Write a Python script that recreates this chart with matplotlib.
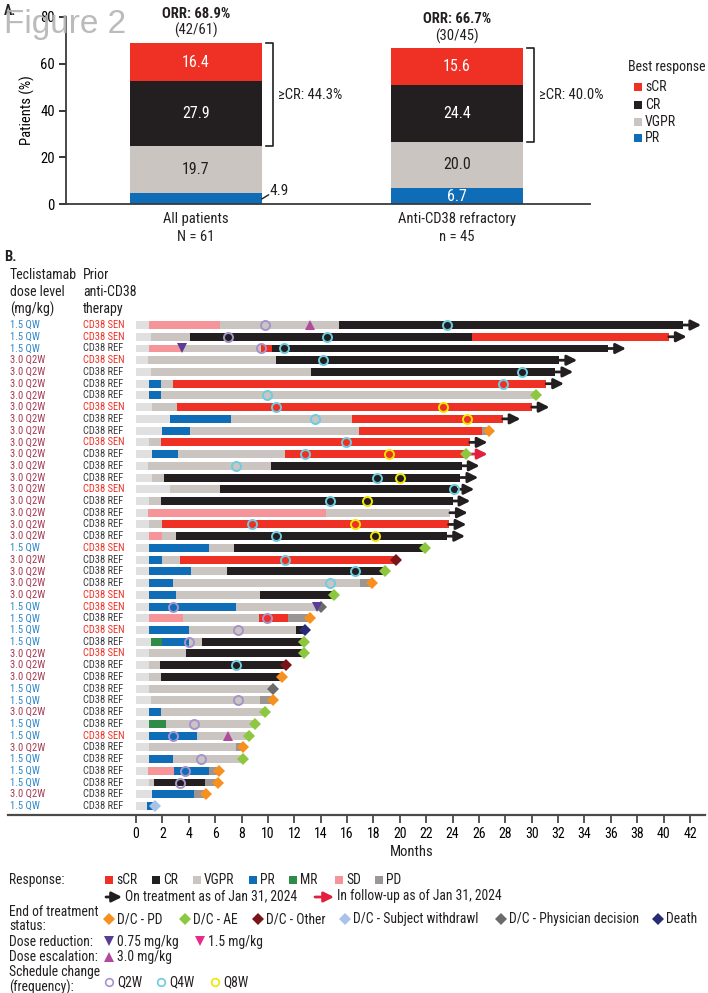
import matplotlib

matplotlib.use("Agg")

import matplotlib.pyplot as plt
from matplotlib import font_manager

_names = {f.name for f in font_manager.fontManager.ttflist}
_narrow = ["Liberation Sans Narrow", "Arial Narrow", "Roboto Condensed",
           "Archivo Narrow", "PT Sans Narrow", "Fira Sans Condensed"]
NARROW = next((n for n in _narrow if n in _names), "Liberation Sans")
plt.rcParams["font.family"] = [NARROW, "DejaVu Sans"]
plt.rcParams["text.color"] = "#231f20"

# ---- panel A: best response (%) ----
groups = ["All patients\nN = 61", "Anti-CD38 refractory\nn = 45"]
pr_pct = [4.9, 6.7]
vgpr_pct = [19.7, 20.0]
cr_pct = [27.9, 24.4]
scr_pct = [16.4, 15.6]
orr_pct = [68.9, 66.7]
orr_n = ["42/61", "30/45"]
gecr_pct = [44.3, 40.0]

# ---- panel B: swimmer plot, one entry per patient (top to bottom) ----
dose_level = [
    "1.5 QW", "1.5 QW", "1.5 QW", "3.0 Q2W", "3.0 Q2W", "3.0 Q2W", "3.0 Q2W",
    "3.0 Q2W", "3.0 Q2W", "3.0 Q2W", "3.0 Q2W", "3.0 Q2W", "3.0 Q2W", "3.0 Q2W",
    "3.0 Q2W", "3.0 Q2W", "3.0 Q2W", "3.0 Q2W", "3.0 Q2W", "1.5 QW", "3.0 Q2W",
    "3.0 Q2W", "3.0 Q2W", "3.0 Q2W", "1.5 QW", "1.5 QW", "1.5 QW", "1.5 QW",
    "3.0 Q2W", "3.0 Q2W", "3.0 Q2W", "1.5 QW", "1.5 QW", "3.0 Q2W", "1.5 QW",
    "1.5 QW", "3.0 Q2W", "1.5 QW", "1.5 QW", "1.5 QW", "3.0 Q2W", "1.5 QW",
]
prior_cd38 = [
    "SEN", "SEN", "REF", "SEN", "REF", "REF", "REF", "SEN", "REF", "REF", "SEN",
    "REF", "REF", "REF", "SEN", "REF", "REF", "REF", "REF", "SEN", "REF", "REF",
    "REF", "SEN", "SEN", "REF", "SEN", "REF", "SEN", "REF", "REF", "REF", "REF",
    "REF", "REF", "SEN", "REF", "REF", "REF", "REF", "REF", "REF",
]
# (response, month at which the segment ends); "NE" = not yet evaluated
segments = [
    [("NE", 1.0), ("SD", 6.4), ("VGPR", 15.4), ("CR", 41.5)],
    [("NE", 1.1), ("VGPR", 4.1), ("CR", 25.5), ("sCR", 40.4)],
    [("NE", 1.0), ("SD", 3.5), ("VGPR", 9.5), ("sCR", 10.3), ("CR", 35.8)],
    [("NE", 0.9), ("VGPR", 10.6), ("CR", 32.1)],
    [("NE", 1.1), ("VGPR", 13.3), ("CR", 31.8)],
    [("NE", 1.0), ("PR", 1.9), ("VGPR", 2.8), ("sCR", 31.1)],
    [("NE", 1.0), ("PR", 1.9), ("VGPR", 30.3)],
    [("NE", 1.2), ("VGPR", 3.1), ("sCR", 30.0)],
    [("NE", 2.6), ("PR", 7.2), ("VGPR", 16.4), ("sCR", 27.8)],
    [("NE", 2.0), ("PR", 4.1), ("VGPR", 16.9), ("sCR", 26.2), ("PD", 26.8)],
    [("NE", 1.0), ("VGPR", 1.9), ("sCR", 25.3)],
    [("NE", 1.2), ("PR", 3.2), ("VGPR", 11.3), ("sCR", 25.0)],
    [("NE", 0.9), ("VGPR", 10.2), ("CR", 24.7)],
    [("NE", 1.2), ("VGPR", 2.1), ("CR", 24.6)],
    [("NE", 2.6), ("VGPR", 6.4), ("CR", 24.3)],
    [("NE", 1.0), ("VGPR", 1.9), ("CR", 24.0)],
    [("NE", 0.9), ("SD", 14.4), ("VGPR", 23.8)],
    [("NE", 1.0), ("VGPR", 2.0), ("sCR", 23.7)],
    [("NE", 1.0), ("SD", 2.0), ("VGPR", 3.0), ("CR", 23.6)],
    [("NE", 1.0), ("PR", 5.5), ("VGPR", 7.4), ("CR", 21.9)],
    [("NE", 1.0), ("PR", 2.0), ("VGPR", 3.3), ("sCR", 19.7)],
    [("NE", 1.0), ("PR", 4.2), ("VGPR", 6.9), ("CR", 18.9)],
    [("NE", 1.0), ("PR", 2.8), ("VGPR", 17.0), ("PD", 17.9)],
    [("NE", 1.0), ("PR", 3.0), ("VGPR", 9.4), ("CR", 15.0)],
    [("NE", 1.0), ("PR", 7.6), ("VGPR", 14.0)],
    [("NE", 1.0), ("SD", 3.6), ("VGPR", 9.3), ("sCR", 11.5), ("PD", 13.2)],
    [("NE", 1.0), ("PR", 4.0), ("VGPR", 12.1), ("CR", 12.8)],
    [("NE", 1.1), ("MR", 2.0), ("PR", 4.0), ("VGPR", 5.0), ("CR", 12.7)],
    [("NE", 1.0), ("VGPR", 3.8), ("CR", 12.7)],
    [("NE", 1.0), ("VGPR", 1.8), ("CR", 11.4)],
    [("NE", 1.0), ("VGPR", 1.9), ("CR", 11.1)],
    [("NE", 1.0), ("VGPR", 10.4)],
    [("NE", 1.1), ("VGPR", 9.4), ("PD", 10.4)],
    [("NE", 1.0), ("PR", 1.9), ("VGPR", 9.8)],
    [("NE", 1.0), ("MR", 2.3), ("VGPR", 9.0)],
    [("NE", 1.0), ("PR", 4.6), ("VGPR", 8.6)],
    [("NE", 1.0), ("VGPR", 7.6), ("PD", 8.1)],
    [("NE", 1.0), ("PR", 2.8), ("VGPR", 8.1)],
    [("NE", 0.9), ("SD", 2.9), ("PR", 5.5), ("PD", 6.3)],
    [("NE", 1.0), ("VGPR", 1.4), ("CR", 5.2), ("PD", 6.2)],
    [("NE", 1.2), ("PR", 4.4), ("PD", 5.3)],
    [("NE", 0.8), ("PR", 1.45)],
]
# status arrow at the end of the bar: "on" treatment / in follow-up ("fu")
status_arrow = [
    "on", "on", "on", "on", "on", "on", None, "on", "on", None, "on", "fu",
    "on", "on", "on", "on", "on", "on", "on", None, None, None, None, None,
    None, None, None, None, None, None, None, None, None, None, None, None,
    None, None, None, None, None, None,
]
# end of treatment reason
end_reason = [
    None, None, None, None, None, None, "AE", None, None, "PD", None, "AE",
    None, None, None, None, None, None, None, "AE", "Other", "AE", "PD", "AE",
    "Physician", "PD", "Death", "AE", "AE", "Other", "PD", "Physician", "PD",
    "AE", "AE", "AE", "PD", "AE", "PD", "PD", "PD", "Withdrawal",
]
# dose changes and schedule changes: (event, month)
events = [
    [("Q2W", 9.8), ("esc3.0", 13.2), ("Q4W", 23.6)],
    [("Q2W", 7.0), ("Q4W", 14.5)],
    [("red0.75", 3.5), ("Q2W", 9.45), ("Q4W", 11.2)],
    [("Q4W", 14.2)],
    [("Q4W", 29.3)],
    [("Q4W", 27.8)],
    [("Q4W", 9.9)],
    [("Q4W", 10.6), ("Q8W", 23.3)],
    [("Q4W", 13.6), ("Q8W", 25.1)],
    [],
    [("Q4W", 15.9)],
    [("Q4W", 12.8), ("Q8W", 19.2)],
    [("Q4W", 7.6)],
    [("Q4W", 18.3), ("Q8W", 20.0)],
    [("Q4W", 24.1)],
    [("Q4W", 14.7), ("Q8W", 17.5)],
    [],
    [("Q4W", 8.8), ("Q8W", 16.6)],
    [("Q4W", 10.6), ("Q8W", 18.1)],
    [],
    [("Q4W", 11.3)],
    [("Q4W", 16.6)],
    [("Q4W", 14.7)],
    [],
    [("Q2W", 2.8), ("red0.75", 13.7)],
    [("Q2W", 9.9)],
    [("Q2W", 7.7)],
    [("Q2W", 4.0)],
    [],
    [("Q4W", 7.6)],
    [],
    [],
    [("Q2W", 7.7)],
    [],
    [("Q2W", 4.4)],
    [("Q2W", 2.8), ("esc3.0", 7.0)],
    [],
    [("Q2W", 4.9)],
    [("Q2W", 3.7)],
    [("Q2W", 3.3)],
    [],
    [],
]

RESP_COL = {
    "NE": "#e0e0e0", "sCR": "#ee3124", "CR": "#231f20", "VGPR": "#cac5c0",
    "PR": "#0e6db6", "MR": "#2f8b45", "SD": "#f59599", "PD": "#9b9593",
}
END_COL = {
    "PD": "#f7901e", "AE": "#8dc63f", "Other": "#7b1416", "Withdrawal": "#a9c3e8",
    "Physician": "#6b6b6b", "Death": "#272b74",
}
EVT_STYLE = {
    "Q2W": dict(marker="o", ms=6.5, mfc="none", mec="#a793cb", mew=1.4),
    "Q4W": dict(marker="o", ms=6.5, mfc="none", mec="#6ccce0", mew=1.4),
    "Q8W": dict(marker="o", ms=6.5, mfc="none", mec="#f2e500", mew=1.4),
    "red0.75": dict(marker="v", ms=7.5, color="#5a3c96", mew=0),
    "red1.5": dict(marker="v", ms=7.5, color="#ea2a8a", mew=0),
    "esc3.0": dict(marker="^", ms=7.5, color="#b1499c", mew=0),
}
ARROW_COL = {"on": "#231f20", "fu": "#e11f3f"}
ARROW_STYLE = "-|>,head_length=0.6,head_width=0.3"
DOSE_COL = {"1.5 QW": "#2d86c9", "3.0 Q2W": "#a33950"}
PRIOR_COL = {"SEN": "#ee3124", "REF": "#3a3a3a"}

W, H = 708, 993
fig = plt.figure(figsize=(W / 100, H / 100), dpi=100)


def px_axes(x0, y0, x1, y1):
    return fig.add_axes([x0 / W, 1 - y1 / H, (x1 - x0) / W, (y1 - y0) / H])


def arrow(ax, x0, x1, y, color):
    ax.annotate("", xy=(x1, y), xytext=(x0, y),
                arrowprops=dict(arrowstyle=ARROW_STYLE, color=color, lw=2.0,
                                mutation_scale=10, shrinkA=0, shrinkB=0))


# ================= panel A =================
axA = px_axes(66, 17, 590, 204)
xs = [0, 1]
bw = 0.506
bottom = [0.0, 0.0]
for name, vals in [("PR", pr_pct), ("VGPR", vgpr_pct), ("CR", cr_pct), ("sCR", scr_pct)]:
    axA.bar(xs, vals, width=bw, bottom=bottom, color=RESP_COL[name], linewidth=0)
    for i, v in enumerate(vals):
        mid = bottom[i] + v / 2
        tc = "#231f20" if name == "VGPR" else "white"
        if name == "PR" and v < 5:
            axA.plot([xs[i] + bw / 2, xs[i] + bw / 2 + 0.025], [2.2, 3.9],
                     color="#231f20", lw=1, clip_on=False)
            axA.text(xs[i] + bw / 2 + 0.03, 5.6, f"{v:.1f}", ha="left",
                     va="center", fontsize=11)
            continue
        axA.text(xs[i], mid, f"{v:.1f}", ha="center", va="center", color=tc,
                 fontsize=11.5)
    bottom = [b + v for b, v in zip(bottom, vals)]

for i in range(2):
    top = orr_pct[i]
    axA.text(xs[i], top + 12.3, f"ORR: {orr_pct[i]:.1f}%", ha="center",
             va="center", fontsize=10.5, fontweight="bold", clip_on=False)
    axA.text(xs[i], top + 5.2, f"({orr_n[i]})", ha="center", va="center",
             fontsize=10.5, clip_on=False)
    low = pr_pct[i] + vgpr_pct[i]
    bx = xs[i] + 0.295
    axA.plot([bx - 0.027, bx, bx, bx - 0.027], [top, top, low, low],
             color="#231f20", lw=1.2, clip_on=False)
    axA.text(bx + 0.018, (top + low) / 2, f"\u2265CR: {gecr_pct[i]:.1f}%",
             ha="left", va="center", fontsize=10.5)
    axA.text(xs[i], -3.6, groups[i], ha="center", va="top", fontsize=10.5,
             linespacing=1.3)

axA.set_xlim(-0.498, 1.51)
axA.set_ylim(0, 80)
axA.set_xticks([])
axA.set_yticks(range(0, 81, 20))
axA.tick_params(axis="y", length=5, width=1.1, labelsize=10.5, pad=3)
for s in ("top", "right"):
    axA.spines[s].set_visible(False)
for s in ("left", "bottom"):
    axA.spines[s].set_linewidth(1.3)
    axA.spines[s].set_color("#3a3a3a")
axA.set_ylabel("Patients (%)", fontsize=10.5, labelpad=4)

# ================= panel B =================
axB = px_axes(8, 318, 705, 815)
bh = 0.68
ytr = axB.get_yaxis_transform()
for r, segs in enumerate(segments):
    start = 0.0
    for resp, end in segs:
        axB.barh(r, end - start, left=start, height=bh, color=RESP_COL[resp],
                 linewidth=0)
        start = end
    if end_reason[r]:
        axB.plot(start, r, marker="D", ms=6.5, color=END_COL[end_reason[r]],
                 mew=0, zorder=4)
    if status_arrow[r]:
        x0 = start + (0.3 if end_reason[r] else 0.0)
        arrow(axB, x0, x0 + 1.35, r, ARROW_COL[status_arrow[r]])
    for ev, m in events[r]:
        axB.plot(m, r, linestyle="none", zorder=5, **EVT_STYLE[ev])
    axB.text(0.003, r, dose_level[r], transform=ytr, ha="left", va="center",
             fontsize=7.6, color=DOSE_COL[dose_level[r]])
    axB.text(0.1076, r, f"CD38 {prior_cd38[r]}", transform=ytr, ha="left",
             va="center", fontsize=7.6, color=PRIOR_COL[prior_cd38[r]])

n = len(segments)
axB.set_xlim((8 - 136) / 13.19, (705 - 136) / 13.19)
axB.set_ylim(n - 1 + 0.77, -0.6)
axB.set_xticks(range(0, 43, 2))
axB.set_yticks([])
axB.tick_params(axis="x", length=6, width=1.2, labelsize=10, pad=3,
                color="#3a3a3a")
for s in ("top", "right", "left"):
    axB.spines[s].set_visible(False)
axB.spines["bottom"].set_linewidth(1.6)
axB.spines["bottom"].set_color("#4a4a4a")

# ================= overlay: titles and legends (pixel coordinates) =================
ov = px_axes(0, 0, W, H)
ov.set_xlim(0, W)
ov.set_ylim(H, 0)
ov.axis("off")

ov.text(4, 11, "A.", fontsize=10, fontweight="bold", va="center", ha="left")
ov.text(4, 24, "Figure 2", fontsize=24, family="Liberation Sans", color="#b4b4b4",
        alpha=0.9, va="center", ha="left")
ov.text(4, 257, "B.", fontsize=10.5, fontweight="bold", va="center", ha="left")
ov.text(10, 268, "Teclistamab\ndose level\n(mg/kg)", fontsize=10, va="top",
        ha="left", linespacing=1.25)
ov.text(83, 268, "Prior\nanti-CD38\ntherapy", fontsize=10, va="top",
        ha="left", linespacing=1.25)
ov.text(412, 852, "Months", fontsize=10.5, ha="center", va="center")

# panel A legend
ov.text(628, 67, "Best response", fontsize=10, ha="left", va="center")
for yy, name in [(87, "sCR"), (105, "CR"), (122, "VGPR"), (138, "PR")]:
    ov.plot(638, yy, marker="s", ms=6, color=RESP_COL[name], mew=0)
    ov.text(645, yy, name, fontsize=10, ha="left", va="center")

# panel B legend
LEG = 9.8
ov.text(9, 880, "Response:", fontsize=LEG, ha="left", va="center")
for xx, name in [(109, "sCR"), (156, "CR"), (197, "VGPR"), (253, "PR"),
                 (293, "MR"), (339, "SD"), (379, "PD")]:
    ov.plot(xx, 880, marker="s", ms=5.5, color=RESP_COL[name], mew=0)
    ov.text(xx + 7, 880, name, fontsize=LEG, ha="left", va="center")
for x0, x1, key, label in [(106, 122, "on", "On treatment as of Jan 31, 2024"),
                           (315, 334, "fu", "In follow-up as of Jan 31, 2024")]:
    arrow(ov, x0, x1, 897, ARROW_COL[key])
    ov.text(x1 + 3, 896, label, fontsize=LEG, ha="left", va="center")

ov.text(9, 919, "End of treatment\nstatus:", fontsize=LEG, ha="left",
        va="center", linespacing=1.0)
for xx, key, label in [(109, "PD", "D/C - PD"), (185, "AE", "D/C - AE"),
                       (258, "Other", "D/C - Other"),
                       (345, "Withdrawal", "D/C - Subject withdrawl"),
                       (501, "Physician", "D/C - Physician decision"),
                       (658, "Death", "Death")]:
    ov.plot(xx, 919, marker="D", ms=6, color=END_COL[key], mew=0)
    ov.text(xx + 8, 919, label, fontsize=LEG, ha="left", va="center")

ov.text(9, 942, "Dose reduction:", fontsize=LEG, ha="left", va="center")
ov.plot(109, 941, marker="v", ms=7, color=EVT_STYLE["red0.75"]["color"], mew=0)
ov.text(117, 942, "0.75 mg/kg", fontsize=LEG, ha="left", va="center")
ov.plot(200, 941, marker="v", ms=7, color=EVT_STYLE["red1.5"]["color"], mew=0)
ov.text(208, 942, "1.5 mg/kg", fontsize=LEG, ha="left", va="center")

ov.text(9, 957, "Dose escalation:", fontsize=LEG, ha="left", va="center")
ov.plot(109, 957, marker="^", ms=7, color=EVT_STYLE["esc3.0"]["color"], mew=0)
ov.text(117, 957, "3.0 mg/kg", fontsize=LEG, ha="left", va="center")

ov.text(9, 980, "Schedule change\n(frequency):", fontsize=LEG, ha="left",
        va="center", linespacing=1.0)
for xx, key in [(109, "Q2W"), (161, "Q4W"), (215, "Q8W")]:
    st = dict(EVT_STYLE[key])
    st["ms"] = 5.5
    st["mew"] = 1.2
    ov.plot(xx, 982, **st)
    ov.text(xx + 8, 982, key, fontsize=LEG, ha="left", va="center")

fig.savefig("out.png", dpi=100)
